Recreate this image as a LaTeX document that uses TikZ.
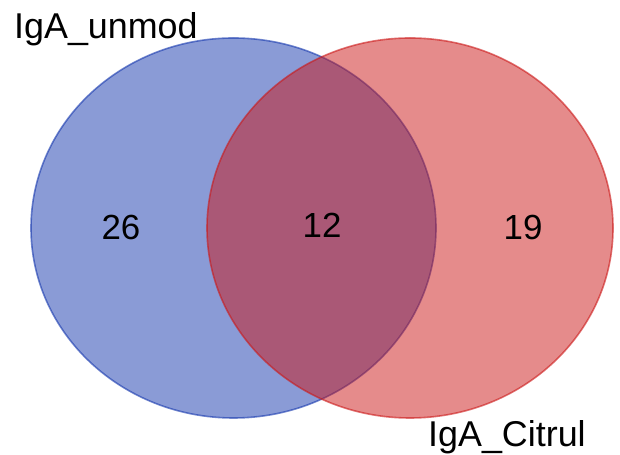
\documentclass[tikz,border=0pt]{standalone}
\usepackage{fontspec}
\setmainfont{Liberation Sans}
\usepackage{tikz}
\usetikzlibrary{positioning}
\definecolor{unmodBlue}{RGB}{21,55,173}
\definecolor{citrulRed}{RGB}{203,23,23}
\tikzset{
    setA/.style={fill=unmodBlue, fill opacity=0.5, draw=unmodBlue, draw opacity=0.6, line width=1.6bp},
    setB/.style={fill=citrulRed, fill opacity=0.5, draw=citrulRed, draw opacity=0.6, line width=1.6bp},
    setname/.style={inner sep=0pt, font=\fontsize{36}{42}\selectfont},
    count/.style={inner sep=0pt, font=\fontsize{35}{40}\selectfont}
}
\begin{document}
\begin{tikzpicture}[x=1bp, y=1bp]
        \useasboundingbox (0,0) rectangle (620,455);
        % Sets
        \coordinate (cA) at (233.5,227);
        \coordinate (cB) at (410,227);
        \path[setA] (cA) ellipse [x radius=202.5bp, y radius=190bp];
        \path[setB] (cB) ellipse [x radius=203bp, y radius=190bp];

        % Set names
        \node[setname, anchor=base west] (unmodName) at (14,416) {IgA\_unmod};
        \node[setname, anchor=base west] (citrulName) at (428,8) {IgA\_Citrul};

        % Counts
        \node[count] (onlyA) at (121,227) {26};
        \node[count] (both) at (322,230) {12};
        \node[count] (onlyB) at (523,227) {19};
    \end{tikzpicture}
\end{document}
